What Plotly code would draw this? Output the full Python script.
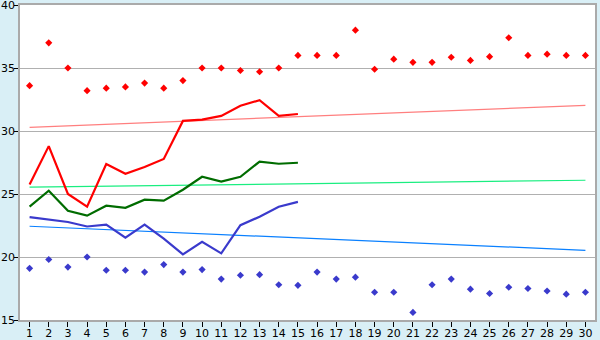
import plotly.graph_objects as go

days = list(range(1, 31))
max_marks = [33.6, 37.0, 35.0, 33.2, 33.4, 33.5, 33.8, 33.4, 34.0, 35.0,
             35.0, 34.8, 34.7, 35.0, 36.0, 36.0, 36.0, 38.0, 34.9, 35.7,
             35.45, 35.45, 35.85, 35.6, 35.9, 37.4, 36.0, 36.1, 36.0, 36.0]
min_marks = [19.1, 19.8, 19.2, 20.0, 18.95, 18.95, 18.8, 19.4, 18.8, 19.0,
             18.25, 18.55, 18.6, 17.8, 17.75, 18.8, 18.25, 18.4, 17.2, 17.2,
             15.6, 17.8, 18.25, 17.45, 17.1, 17.6, 17.5, 17.3, 17.05, 17.2]
line_days = list(range(1, 16))
red_line = [25.75, 28.8, 25.0, 24.0, 27.38, 26.6, 27.15, 27.78, 30.8, 30.9,
            31.2, 32.0, 32.45, 31.2, 31.35]
green_line = [24.0, 25.26, 23.67, 23.28, 24.07, 23.9, 24.55, 24.47, 25.34, 26.37,
              25.98, 26.37, 27.57, 27.4, 27.48]
blue_line = [23.17, 22.96, 22.78, 22.42, 22.57, 21.53, 22.57, 21.45, 20.21, 21.21,
             20.29, 22.52, 23.2, 23.99, 24.37]
trend_days = [1, 30]
red_trend = [30.29, 32.04]
green_trend = [25.55, 26.09]
blue_trend = [22.44, 20.53]

fig = go.Figure()
fig.add_trace(go.Scatter(x=trend_days, y=red_trend, mode="lines",
                         line=dict(color="#ff7f7f", width=1.2)))
fig.add_trace(go.Scatter(x=trend_days, y=green_trend, mode="lines",
                         line=dict(color="#1aee80", width=1.2)))
fig.add_trace(go.Scatter(x=trend_days, y=blue_trend, mode="lines",
                         line=dict(color="#0a80ff", width=1.2)))
fig.add_trace(go.Scatter(x=line_days, y=red_line, mode="lines",
                         line=dict(color="#ff0000", width=2.2)))
fig.add_trace(go.Scatter(x=line_days, y=green_line, mode="lines",
                         line=dict(color="#006c00", width=2.2)))
fig.add_trace(go.Scatter(x=line_days, y=blue_line, mode="lines",
                         line=dict(color="#3a3acc", width=2.2)))
fig.add_trace(go.Scatter(x=days, y=max_marks, mode="markers",
                         marker=dict(symbol="diamond", size=5.5, color="#ff0000")))
fig.add_trace(go.Scatter(x=days, y=min_marks, mode="markers",
                         marker=dict(symbol="diamond", size=5.5, color="#3a3acc")))

fig.update_layout(
    width=600, height=340,
    margin=dict(l=20, r=5, t=5, b=20, pad=0),
    paper_bgcolor="#d9eff6", plot_bgcolor="#ffffff",
    showlegend=False,
    font=dict(family="DejaVu Sans", size=11, color="#000000"),
)
fig.update_xaxes(range=[0.5, 30.5], tickmode="array", tickvals=days,
                 ticks="outside", ticklen=5, tickcolor="#000000",
                 ticklabelstandoff=-3, ticklabeloverflow="allow",
                 automargin=False,
                 showgrid=False, zeroline=False,
                 showline=True, linecolor="#aaaaaa", linewidth=1.5, mirror=True)
fig.update_yaxes(range=[15, 40], tickmode="array", tickvals=[15, 20, 25, 30, 35, 40],
                 ticks="outside", ticklen=4, tickcolor="#000000",
                 ticklabelstandoff=-3, ticklabeloverflow="allow",
                 automargin=False,
                 showgrid=True, gridcolor="#b0b0b0", gridwidth=1, zeroline=False,
                 showline=True, linecolor="#aaaaaa", linewidth=1.5, mirror=True)

fig.write_html("out.html")
